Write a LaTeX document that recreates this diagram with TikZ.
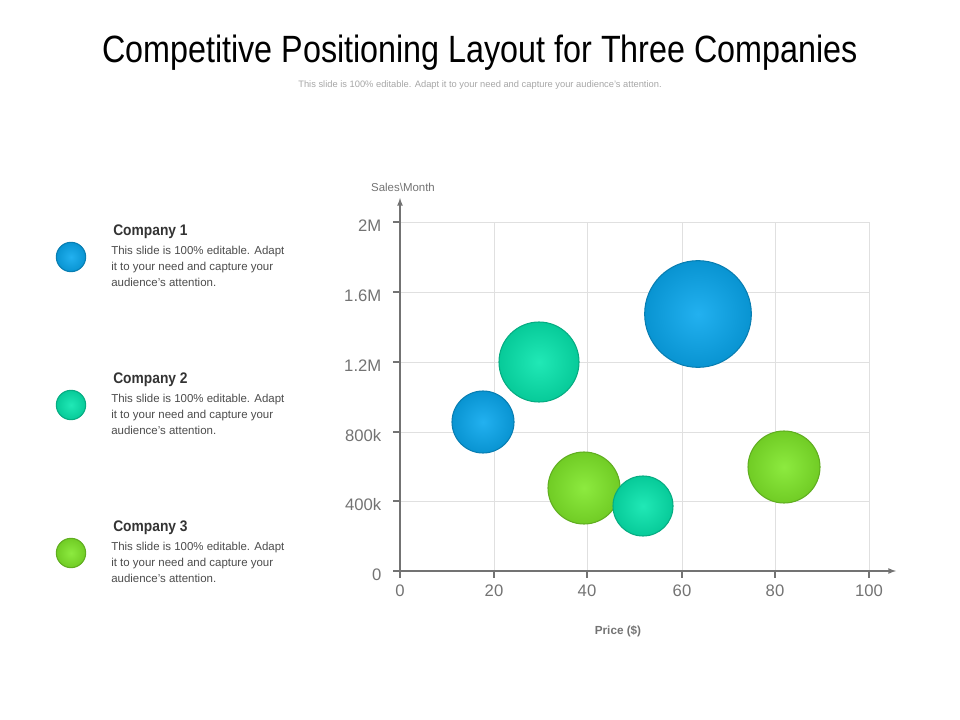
\documentclass[tikz,border=0pt]{standalone}
\usepackage{fontspec}
\setmainfont{Liberation Sans}
\begin{document}
\begin{tikzpicture}[x=0.75pt,y=-0.75pt,
  grid/.style={draw=black!12,line width=0.6pt},
  axisline/.style={draw=black!55,line width=1pt,-latex},
  ticklbl/.style={text=black!55,font=\fontsize{12.5}{14}\selectfont},
  bub/.style={circle,inner sep=0pt,draw=#1!75!black,line width=0.8pt,shading=radial,inner color=#1!90!white,outer color=#1!88!black},
  legtitle/.style={anchor=north west,font=\bfseries\fontsize{11.5}{13}\selectfont,text=black!80,inner sep=0pt},
  legtext/.style={anchor=north west,align=left,font=\fontsize{8.6}{12}\selectfont,text=black!70,inner sep=0pt}]
\definecolor{cblue}{HTML}{0AA8EE}
\definecolor{cteal}{HTML}{08E6AE}
\definecolor{cgreen}{HTML}{80E82A}
\useasboundingbox (0,0) rectangle (960,720);
\node (title) at (480,53) {\fontsize{28.5}{32}\selectfont\addfontfeature{FakeStretch=0.85}Competitive Positioning Layout for Three Companies};
\node (sub) at (480,85) {\fontsize{7}{8}\selectfont\color{black!35}This slide is 100\% editable. Adapt it to your need and capture your audience's attention.};
% grid
\foreach \yy in {222,292,362,432,501} \draw[grid] (400,\yy) -- (869,\yy);
\foreach \xx in {494,587,682,775,869} \draw[grid] (\xx,222) -- (\xx,571);
% axes
\coordinate (o) at (400,571);
\coordinate (ytop) at (400,198);
\coordinate (xend) at (896,571);
\draw[axisline] (o) -- (ytop);
\draw[axisline] (o) -- (xend);
\foreach \yy/\l in {222/2M,292/1.6M,362/1.2M,432/800k,501/400k,571/0} {
  \draw[black!55,line width=1pt] (393,\yy) -- (400,\yy);
  \node[ticklbl,anchor=east] at (386,\yy+4) {\l};}
\foreach \xx/\l in {400/0,494/20,587/40,682/60,775/80,869/100} {
  \draw[black!55,line width=1pt] (\xx,571) -- (\xx,578);
  \node[ticklbl] at (\xx,591) {\l};}
\node[text=black!55,font=\fontsize{8.6}{10}\selectfont] (ylab) at (403,187) {Sales\textbackslash Month};
\node[text=black!55,font=\bfseries\fontsize{8.8}{10}\selectfont] (xlab) at (618,631) {Price (\$)};
% bubbles
\node[bub=cblue,minimum size=46.5pt] (b1) at (483,422) {};
\node[bub=cteal,minimum size=60pt] (b2) at (539,362) {};
\node[bub=cblue,minimum size=80pt] (b3) at (698,314) {};
\node[bub=cgreen,minimum size=54pt] (b4) at (584,488) {};
\node[bub=cteal,minimum size=45pt] (b5) at (643,506) {};
\node[bub=cgreen,minimum size=54pt] (b6) at (784,467) {};
% legend
\foreach \c/\yy/\n in {cblue/257/1,cteal/405/2,cgreen/553/3} {
  \node[bub=\c,minimum size=22pt] (l\n) at (71,\yy) {};
  \node[legtitle] (lt\n) at (113,\yy-32) {\addfontfeature{FakeStretch=0.9}Company \n};
  \node[legtext] (ld\n) at (111,\yy-11) {This slide is 100\% editable. Adapt\\it to your need and capture your\\audience's attention.};
}
\end{tikzpicture}
\end{document}
